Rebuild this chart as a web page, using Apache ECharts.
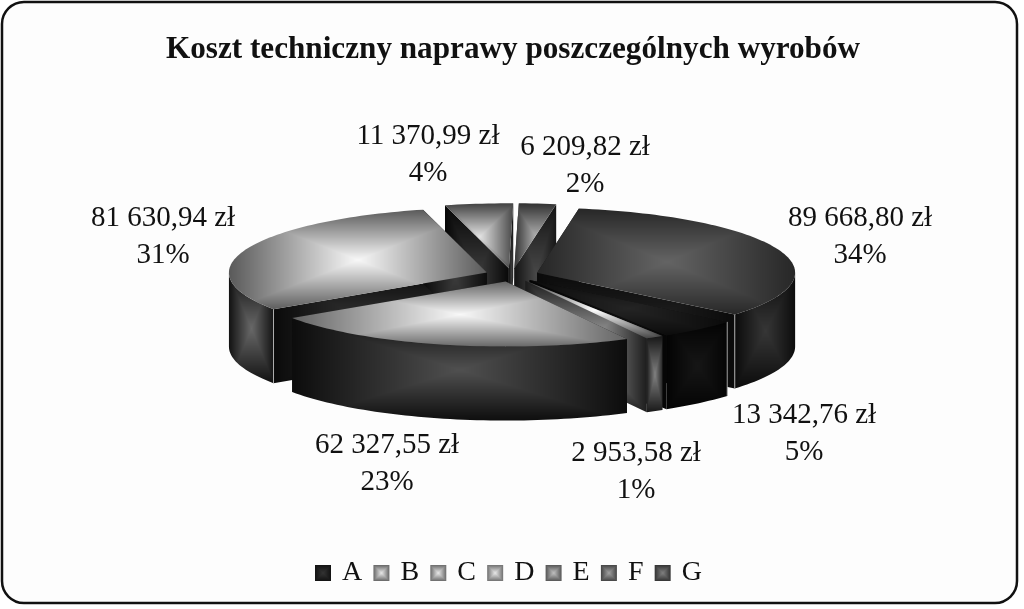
<!DOCTYPE html>
<html><head><meta charset="utf-8">
<style>html,body{margin:0;padding:0;background:#fff}#c{width:1024px;height:609px}</style>
<script src="https://cdn.jsdelivr.net/npm/echarts@6/dist/echarts.min.js"></script>
</head><body><div id="c"></div>
<script>
// ---- data ----
const categories = ['A','B','C','D','E','F','G'];
const costs = [13342.76, 2953.58, 62327.55, 81630.94, 11370.99, 6209.82, 89668.80];
const titleText = 'Koszt techniczny naprawy poszczególnych wyrobów';

// ---- styling / layout ----
const FONT = '"Liberation Serif","Times New Roman",serif';
const topShade  = [['#242424','#0a0a0a'],['#ffffff','#3a3a3a'],['#f8f8f8','#626262'],['#f8f8f8','#585858'],['#e2e2e2','#404040'],['#b0b0b0','#303030'],['#646464','#262626']];
const rimShade  = [['#161616','#030303'],['#808080','#141414'],['#505050','#0c0c0c'],['#686868','#0e0e0e'],['#505050','#0a0a0a'],['#505050','#0e0e0e'],['#363636','#0a0a0a']];
const sideShade = [['#141414','#050505'],['#b0b0b0','#1a1a1a'],['#404040','#0c0c0c'],['#3a3a3a','#0a0a0a'],['#3c3c3c','#060606'],['#484848','#121212'],['#242424','#0a0a0a']];
const chipShade = [['#333333','#121212'],['#e8e8e8','#666666'],['#e8e8e8','#6a6a6a'],['#e8e8e8','#707070'],['#c0c0c0','#555555'],['#a0a0a0','#444444'],['#808080','#333333']];
const labelCentres = [[804,434],[636,472],[387,464],[163,237],[428,155],[585,166],[860,237]];
const cornerLines = {0:'a0',3:'a0',6:'a1'};
const pie = {cx:512, cy:275, rx:258, ry:65, depth:74, burst:26.8, start:130};

const total = costs.reduce((a,b)=>a+b,0);
const hex = c => [1,3,5].map(i=>parseInt(c.substr(i,2),16));
function shadeCanvas(w,h,centre,edge){
  w=Math.max(2,Math.ceil(w)); h=Math.max(2,Math.ceil(h));
  const cv=document.createElement('canvas'); cv.width=w; cv.height=h;
  const g=cv.getContext('2d'), im=g.createImageData(w,h), a=hex(centre), b=hex(edge);
  for(let y=0;y<h;y++)for(let x=0;x<w;x++){
    const t=Math.min(1,Math.max(Math.abs((x+.5)/w*2-1),Math.abs((y+.5)/h*2-1)));
    const i=(y*w+x)*4;
    for(let k=0;k<3;k++) im.data[i+k]=a[k]+(b[k]-a[k])*t;
    im.data[i+3]=255;
  }
  g.putImageData(im,0,0); return cv;
}
function face(points,shade){
  const xs=points.map(p=>p[0]), ys=points.map(p=>p[1]);
  const x0=Math.floor(Math.min(...xs)), y0=Math.floor(Math.min(...ys));
  const w=Math.max(...xs)-x0+1, h=Math.max(...ys)-y0+1;
  return {type:'polygon',shape:{points},silent:true,
    style:{fill:{image:shadeCanvas(w,h,shade[0],shade[1]),repeat:'no-repeat',x:x0,y:y0},stroke:null}};
}
const rad=d=>d*Math.PI/180;
function arc(sx,sy,a,b,dy){
  const pts=[],n=Math.max(2,Math.ceil(Math.abs(b-a)/1.5));
  for(let i=0;i<=n;i++){const t=rad(a+(b-a)*i/n);pts.push([sx+pie.rx*Math.sin(t),sy-pie.ry*Math.cos(t)+dy]);}
  return pts;
}
function fmt(v){
  const [i,d]=v.toFixed(2).split('.');
  return i.replace(/\B(?=(\d{3})+$)/g,' ')+','+d+' zł';
}
// slice angles come from the values
let acc=pie.start;
const slices=costs.map((v,i)=>{const a0=acc;acc+=v/total*360;return {i,a0,a1:acc,mid:(a0+acc)/2};});

function renderSlice(s){
  return function(){
    const m=rad(s.mid), sx=pie.cx+pie.burst*Math.sin(m), sy=pie.cy-pie.burst*pie.ry/pie.rx*Math.cos(m);
    const d=pie.depth, kids=[];
    const radial=a=>{
      const r=arc(sx,sy,a,a,0)[0];
      return face([[sx,sy],r,[r[0],r[1]+d],[sx,sy+d]],sideShade[s.i]);
    };
    kids.push(radial(s.a0),radial(s.a1));
    for(const k of [0,360]){
      const a=Math.max(s.a0,90+k), b=Math.min(s.a1,270+k);
      if(b>a){
        const up=arc(sx,sy,a,b,0), dn=arc(sx,sy,a,b,d).reverse();
        kids.push(face(up.concat(dn),rimShade[s.i]));
      }
    }
    if(cornerLines[s.i]){
      const r=arc(sx,sy,s[cornerLines[s.i]],s[cornerLines[s.i]],0)[0];
      kids.push({type:'line',silent:true,shape:{x1:r[0],y1:r[1],x2:r[0],y2:r[1]+d},style:{stroke:'#c8c8c8',lineWidth:1,opacity:.8}});
    }
    kids.push(face([[sx,sy]].concat(arc(sx,sy,s.a0,s.a1,0)),topShade[s.i]));
    const c=labelCentres[s.i];
    kids.push({type:'text',silent:true,x:c[0],y:c[1],style:{
      text:fmt(costs[s.i])+'\n'+Math.round(costs[s.i]/total*100)+'%',
      font:'29px '+FONT,fill:'#111',align:'center',verticalAlign:'middle',lineHeight:37}});
    return {type:'group',children:kids};
  };
}
const drawOrder=slices.slice().sort((p,q)=>Math.cos(rad(q.mid))-Math.cos(rad(p.mid)));
const series=drawOrder.map((s,rank)=>({
  type:'custom',name:categories[s.i],coordinateSystem:'none',z:2+rank,silent:true,
  data:[costs[s.i]],renderItem:renderSlice(s),animation:false,clip:false
}));
const chart=echarts.init(document.getElementById('c'),null,{renderer:'canvas'});
chart.setOption({
  animation:false,backgroundColor:'#fff',
  title:{text:titleText,left:508,top:29,textAlign:'center',textStyle:{fontFamily:FONT,fontWeight:'bold',fontSize:31.2,color:'#111'}},
  legend:{left:310,top:554,icon:'rect',itemWidth:16,itemHeight:16,itemGap:11.2,selectedMode:false,
    textStyle:{fontFamily:FONT,fontSize:28,color:'#111',padding:[0,0,0,6]},
    data:categories.map((c,i)=>({name:c,itemStyle:{color:{image:shadeCanvas(16,16,chipShade[i][0],chipShade[i][1]),repeat:'repeat'}}}))},
  graphic:[{type:'rect',z:-1,silent:true,shape:{x:2,y:2,width:1015,height:601,r:22},style:{fill:'#fdfdfd',stroke:'#111',lineWidth:2.5}}],
  series
});
</script></body></html>
